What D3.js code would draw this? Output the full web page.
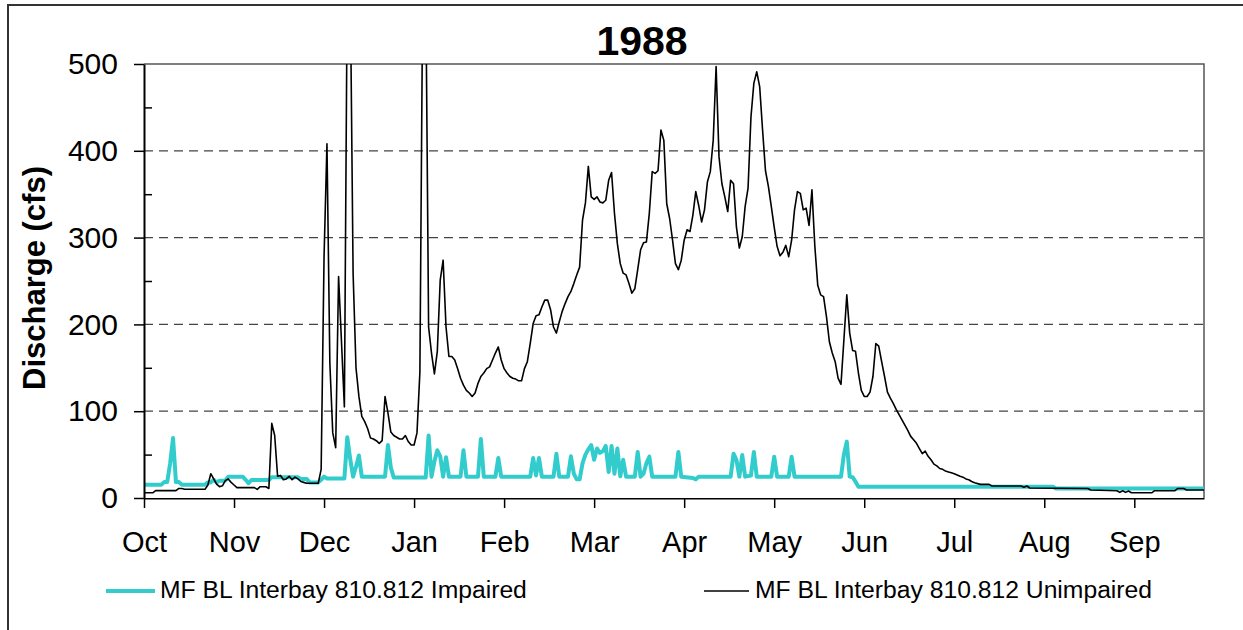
<!DOCTYPE html>
<html>
<head>
<meta charset="utf-8">
<script src="https://cdn.jsdelivr.net/npm/d3@7"></script>
<style>
  body { margin: 0; background: #fff; }
  text { font-family: "Liberation Sans", Arial, sans-serif; }
</style>
</head>
<body>
<script>
// chart size
var width = 1243;
var height = 630;
var margin = { left: 144, right: 39, top: 64, bottom: 132 };

// month labels, one every 31 days from Oct 1
var months = ["Oct", "Nov", "Dec", "Jan", "Feb", "Mar", "Apr", "May", "Jun", "Jul", "Aug", "Sep"];
var yMajor = [0, 100, 200, 300, 400, 500];
var yMinor = [50, 150, 250, 350, 450];
var gridValues = [100, 200, 300, 400];
var seriesNames = ["MF BL Interbay 810.812 Impaired", "MF BL Interbay 810.812 Unimpaired"];

// [day since Oct 1, cfs]
var impaired = [[0,15.4],[6,15.4],[7,18.4],[8,18.4],[9,40],[10,69],[11,18.4],[12,18.4],[13,15.4],[21,15.4],
  [22,18],[23,18],[24,21],[25,18],[26,20],[28,20],[29,24.6],[34,24.6],[35,21],[36,17],[37,20.7],[43,20.7],
  [44,24],[53,24],[54,22],[56,22],[57,18],[60,18],[61,21],[62,24.6],[63,22.5],[69,22.5],[70,70],[71,45],
  [72,24.6],[73,36],[74,49],[75,24.6],[83,24.6],[84,61],[85,35],[86,23.5],[97,23.5],[98,72],[99,24.6],
  [100,42],[101,55],[102,48],[103,24.6],[104,47],[105,24.6],[109,24.6],[110,55],[111,24.6],[115,24.6],
  [116,68],[117,24.6],[121,24.6],[122,46],[123,24.6],[133,24.6],[134,46],[135,26],[136,46],[137,24.6],
  [141,24.6],[142,51],[143,24.6],[146,24.6],[147,48],[148,28],[149,21.5],[150,21.5],[151,40],[152,50],
  [153,56],[154,61],[155,44],[156,57],[157,52],[158,54],[159,60],[160,30],[161,60],[162,28],[163,57],
  [164,25],[165,44],[166,24.6],[169,24.6],[170,53],[171,24.6],[172,28],[173,40],[174,47.6],[175,24.6],
  [183,24.6],[184,53],[185,24.6],[189,23],[190,21.5],[191,24.6],[202,24.6],[203,51],[204,44],[205,24.6],
  [206,49.5],[207,24.6],[209,26],[210,53],[211,24.6],[216,24.6],[217,47.6],[218,24.6],[222,24.6],
  [223,47.6],[224,24.6],[240,24.6],[241,50],[242,65],[243,24.6],[244,24],[245,18.8],[246,13],[313,13],
  [314,11],[365,11]];

var unimpaired = [[0,6],[3,6],[4,8.5],[11,8.5],[12,11],[13,11],[14,10],[21,10],[22,15],[23,28],[24,22],
  [25,16],[26,13],[27,14],[28,20],[29,22],[30,18],[31,15],[32,12],[38,12],[39,10],[40,13],[42,13],[43,11],
  [44,86],[45,72],[46,25],[47,26],[48,21],[49,22],[50,25],[51,21],[52,24],[53,22],[54,19],[55,18],[56,17],
  [60,17],[61,33],[62,278],[63,408],[64,155],[65,75],[66,58],[67,255],[68,180],[69,105],[70,600],[71,600],
  [72,259],[73,150],[74,117],[75,94],[76,88],[77,80],[78,69],[79,68],[80,66],[81,63],[82,66],[83,117],
  [84,98],[85,76],[86,72],[87,70],[88,68],[89,68],[90,72],[91,65],[92,61],[93,61],[94,75],[95,145],
  [96,600],[97,600],[98,197],[99,167],[100,143],[101,169],[102,251],[103,274],[104,197],[105,163],[106,163],
  [107,159],[108,149],[109,138],[110,130],[111,124],[112,121],[113,117],[114,121],[115,132],[116,140],
  [117,144],[118,149],[119,151],[120,159],[121,167],[122,174],[123,159],[124,149],[125,144],[126,140],
  [127,138],[128,137],[129,135],[130,135],[131,149],[132,157],[133,178],[134,201],[135,210],[136,211],
  [137,220],[138,228],[139,228],[140,217],[141,197],[142,190],[143,203],[144,215],[145,224],[146,232],
  [147,238],[148,247],[149,257],[150,266],[151,320],[152,340],[153,382],[154,347],[155,344],[156,347],
  [157,341],[158,340],[159,343],[160,366],[161,375],[162,328],[163,293],[164,270],[165,259],[166,257],
  [167,247],[168,236],[169,241],[170,263],[171,286],[172,294],[173,295],[174,328],[175,376],[176,374],
  [177,377],[178,424],[179,412],[180,339],[181,322],[182,297],[183,270],[184,263],[185,274],[186,297],
  [187,309],[188,307],[189,326],[190,353],[191,337],[192,318],[193,332],[194,364],[195,376],[196,412],
  [197,497],[198,393],[199,362],[200,347],[201,330],[202,366],[203,362],[204,312],[205,288],[206,301],
  [207,336],[208,357],[209,439],[210,478],[211,491],[212,474],[213,424],[214,377],[215,359],[216,336],
  [217,312],[218,290],[219,279],[220,283],[221,291],[222,278],[223,297],[224,332],[225,353],[226,351],
  [227,332],[228,334],[229,314],[230,355],[231,290],[232,245],[233,234],[234,232],[235,209],[236,180],
  [237,167],[238,157],[239,138],[240,131],[241,182],[242,234],[243,190],[244,170],[245,169],[246,144],
  [247,124],[248,117],[249,117],[250,122],[251,140],[252,178],[253,175],[254,157],[255,140],[256,122],
  [257,115],[258,109],[259,102],[260,96],[261,90],[262,84],[263,78],[264,71],[265,67],[266,63],[267,57],
  [268,51],[269,54],[270,48],[271,44],[272,39],[273,37],[274,34],[275,33],[276,31],[277,30],[278,29],
  [279,28],[280,26.5],[281,25],[282,24],[283,22],[284,21],[285,19],[286,17.5],[288,15.7],[291,15.7],
  [292,13.8],[302,13.8],[303,12.3],[304,13.8],[305,11.5],[325,11],[326,9.2],[335,8.4],[336,6.5],[337,8.4],
  [338,6.5],[339,8],[340,6],[347,6],[348,8.4],[355,8.4],[356,11],[358,11],[359,9.2],[365,9.2]];

var svg = d3.select("body")
  .append("svg")
  .attr("width", width)
  .attr("height", height);

// outer chart frame (right and bottom edges fall outside the picture)
svg.append("rect")
  .attr("x", 8).attr("y", 5)
  .attr("width", 1260).attr("height", 650)
  .attr("fill", "#fff")
  .attr("stroke", "#333")
  .attr("stroke-width", 2);

var x = d3.scaleLinear().domain([0, 365]).range([margin.left, width - margin.right]);
var y = d3.scaleLinear().domain([0, 500]).range([height - margin.bottom, margin.top]);

svg.append("clipPath").attr("id", "plotClip")
  .append("rect")
  .attr("x", x(0)).attr("y", y(500))
  .attr("width", x(365) - x(0)).attr("height", y(0) - y(500));

// dashed gridlines
svg.append("g")
  .selectAll("line")
  .data(gridValues)
  .enter()
  .append("line")
  .attr("x1", x(0)).attr("x2", x(365))
  .attr("y1", function(d) { return y(d); })
  .attr("y2", function(d) { return y(d); })
  .style("stroke", "#444")
  .style("stroke-width", 1.3)
  .style("stroke-dasharray", "9,6");

// top and right edges of the plot area
svg.append("path")
  .attr("d", "M" + x(0) + "," + y(500) + "H" + x(365) + "V" + y(0))
  .attr("fill", "none")
  .style("stroke", "#555")
  .style("stroke-width", 1.5);

// series lines
var line = d3.line()
  .x(function(d) { return x(d[0]); })
  .y(function(d) { return y(d[1]); });

var plot = svg.append("g").attr("clip-path", "url(#plotClip)");

plot.append("path")
  .datum(impaired)
  .attr("d", line)
  .attr("fill", "none")
  .style("stroke", "#33cccc")
  .style("stroke-width", 4)
  .style("stroke-linejoin", "round");

plot.append("path")
  .datum(unimpaired)
  .attr("d", line)
  .attr("fill", "none")
  .style("stroke", "#000")
  .style("stroke-width", 1.6)
  .style("stroke-linejoin", "round");

// y axis: major ticks outside with labels, minor ticks inside
var yAxis = svg.append("g")
  .attr("transform", "translate(" + x(0) + ",0)")
  .call(d3.axisLeft(y).tickValues(yMajor).tickSize(10).tickSizeOuter(0).tickPadding(16));
yAxis.select(".domain").style("stroke", "#000").style("stroke-width", 2);
yAxis.selectAll(".tick line").style("stroke", "#000").style("stroke-width", 1.5);
yAxis.selectAll("text")
  .style("font-size", "30px")
  .style("fill", "#000");

var yMinorAxis = svg.append("g")
  .attr("transform", "translate(" + x(0) + ",0)")
  .call(d3.axisRight(y).tickValues(yMinor).tickSize(8).tickFormat(""));
yMinorAxis.select(".domain").remove();
yMinorAxis.selectAll(".tick line").style("stroke", "#000").style("stroke-width", 1.5);

// x axis, ticks every 31 days
svg.append("clipPath").attr("id", "labelClip")
  .append("rect")
  .attr("x", 0).attr("y", 0)
  .attr("width", width).attr("height", 554);

var xAxis = svg.append("g")
  .attr("transform", "translate(0," + y(0) + ")")
  .attr("clip-path", "url(#labelClip)")
  .call(d3.axisBottom(x)
    .tickValues(d3.range(0, 365, 31))
    .tickFormat(function(d, i) { return months[i]; })
    .tickSize(10)
    .tickSizeOuter(0)
    .tickPadding(23));
xAxis.select(".domain").style("stroke", "#000").style("stroke-width", 2);
xAxis.selectAll(".tick line").style("stroke", "#000").style("stroke-width", 1.5);
xAxis.selectAll("text")
  .style("font-size", "29px")
  .style("fill", "#000");

// title
svg.append("text")
  .attr("x", 642)
  .attr("y", 55)
  .attr("text-anchor", "middle")
  .style("font-size", "41px")
  .style("font-weight", "bold")
  .text("1988");

// y axis title
svg.append("text")
  .attr("transform", "translate(45,278) rotate(-90)")
  .attr("text-anchor", "middle")
  .style("font-size", "31px")
  .style("font-weight", "bold")
  .text("Discharge (cfs)");

// legend
var legendItems = [
  { name: seriesNames[0], color: "#33cccc", w: 4, x1: 106, x2: 155, tx: 160 },
  { name: seriesNames[1], color: "#000", w: 1.6, x1: 704, x2: 749, tx: 755 }
];
var legend = svg.selectAll(".legend")
  .data(legendItems)
  .enter()
  .append("g")
  .attr("class", "legend");
legend.append("line")
  .attr("x1", function(d) { return d.x1; })
  .attr("x2", function(d) { return d.x2; })
  .attr("y1", 591).attr("y2", 591)
  .style("stroke", function(d) { return d.color; })
  .style("stroke-width", function(d) { return d.w; });
legend.append("text")
  .attr("x", function(d) { return d.tx; })
  .attr("y", 598)
  .style("font-size", "24.7px")
  .text(function(d) { return d.name; });
</script>
</body>
</html>
